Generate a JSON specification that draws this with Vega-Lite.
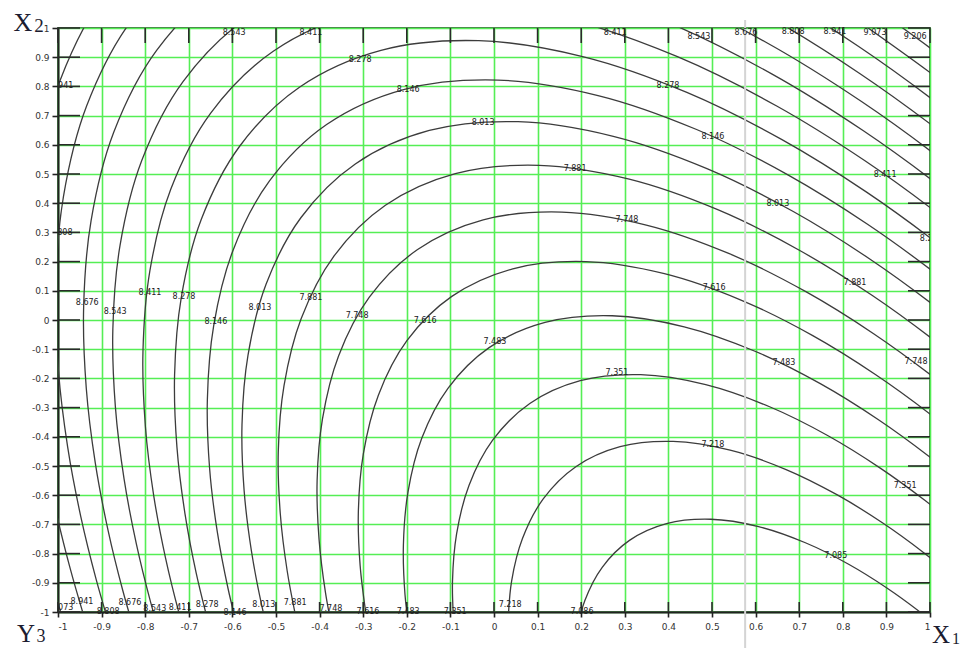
{
  "$schema": "https://vega.github.io/schema/vega-lite/v6.json",
  "width": 872,
  "height": 584,
  "autosize": {"type": "none"},
  "padding": {"left": 58, "top": 28, "right": 30, "bottom": 36},
  "background": "white",
  "config": {
    "view": {"stroke": "#4a6e4a", "strokeWidth": 2},
    "axis": {
      "grid": true,
      "gridColor": "#55ee55",
      "gridWidth": 1.6,
      "gridOpacity": 1,
      "domainColor": "#222222",
      "domainWidth": 2,
      "tickColor": "#222222",
      "tickWidth": 1.6,
      "labelFont": "DejaVu Sans",
      "labelFontSize": 9,
      "labelColor": "#333333",
      "labelOverlap": false
    },
    "axisX": {"tickSize": 5, "labelPadding": 5},
    "axisY": {"tickSize": 6, "labelPadding": 3}
  },
  "datasets": {
    "ticks": [
      {"t": -1}, {"t": -0.9}, {"t": -0.8}, {"t": -0.7}, {"t": -0.6}, {"t": -0.5}, {"t": -0.4},
      {"t": -0.3}, {"t": -0.2}, {"t": -0.1}, {"t": 0}, {"t": 0.1}, {"t": 0.2}, {"t": 0.3},
      {"t": 0.4}, {"t": 0.5}, {"t": 0.6}, {"t": 0.7}, {"t": 0.8}, {"t": 0.9}, {"t": 1}
    ],
    "one": [{"k": 1}],
    "contours": [
      {"c":"7.085","t":84,"x":1.0422,"y":-1.0788},{"c":"7.085","t":88,"x":0.9770,"y":-0.9997},{"c":"7.085","t":92,"x":0.9011,"y":-0.9176},{"c":"7.085","t":96,"x":0.8134,"y":-0.8363},{"c":"7.085","t":100,"x":0.7142,"y":-0.7628},{"c":"7.085","t":104,"x":0.6068,"y":-0.7075},{"c":"7.085","t":108,"x":0.4974,"y":-0.6824},{"c":"7.085","t":112,"x":0.3956,"y":-0.6974},{"c":"7.085","t":116,"x":0.3107,"y":-0.7547},{"c":"7.085","t":120,"x":0.2482,"y":-0.8469},{"c":"7.085","t":124,"x":0.2084,"y":-0.9606},{"c":"7.085","t":128,"x":0.1875,"y":-1.0822},
      {"c":"7.218","t":84,"x":1.0620,"y":-0.8898},{"c":"7.218","t":88,"x":0.9842,"y":-0.7953},{"c":"7.218","t":92,"x":0.8934,"y":-0.6971},{"c":"7.218","t":96,"x":0.7885,"y":-0.5999},{"c":"7.218","t":100,"x":0.6700,"y":-0.5121},{"c":"7.218","t":104,"x":0.5416,"y":-0.4459},{"c":"7.218","t":108,"x":0.4109,"y":-0.4159},{"c":"7.218","t":112,"x":0.2892,"y":-0.4339},{"c":"7.218","t":116,"x":0.1877,"y":-0.5024},{"c":"7.218","t":120,"x":0.1129,"y":-0.6126},{"c":"7.218","t":124,"x":0.0653,"y":-0.7485},{"c":"7.218","t":128,"x":0.0404,"y":-0.8939},{"c":"7.218","t":132,"x":0.0322,"y":-1.0372},
      {"c":"7.351","t":84,"x":1.0791,"y":-0.7277},{"c":"7.351","t":88,"x":0.9903,"y":-0.6199},{"c":"7.351","t":92,"x":0.8868,"y":-0.5080},{"c":"7.351","t":96,"x":0.7672,"y":-0.3972},{"c":"7.351","t":100,"x":0.6321,"y":-0.2971},{"c":"7.351","t":104,"x":0.4856,"y":-0.2216},{"c":"7.351","t":108,"x":0.3366,"y":-0.1874},{"c":"7.351","t":112,"x":0.1979,"y":-0.2079},{"c":"7.351","t":116,"x":0.0821,"y":-0.2861},{"c":"7.351","t":120,"x":-0.0031,"y":-0.4117},{"c":"7.351","t":124,"x":-0.0574,"y":-0.5666},{"c":"7.351","t":128,"x":-0.0858,"y":-0.7324},{"c":"7.351","t":132,"x":-0.0952,"y":-0.8958},{"c":"7.351","t":136,"x":-0.0918,"y":-1.0491},
      {"c":"7.483","t":84,"x":1.0941,"y":-0.5844},{"c":"7.483","t":88,"x":0.9957,"y":-0.4649},{"c":"7.483","t":92,"x":0.8810,"y":-0.3408},{"c":"7.483","t":96,"x":0.7484,"y":-0.2180},{"c":"7.483","t":100,"x":0.5986,"y":-0.1070},{"c":"7.483","t":104,"x":0.4362,"y":-0.0233},{"c":"7.483","t":108,"x":0.2710,"y":0.0146},{"c":"7.483","t":112,"x":0.1171,"y":-0.0081},{"c":"7.483","t":116,"x":-0.0112,"y":-0.0947},{"c":"7.483","t":120,"x":-0.1056,"y":-0.2340},{"c":"7.483","t":124,"x":-0.1659,"y":-0.4058},{"c":"7.483","t":128,"x":-0.1973,"y":-0.5896},{"c":"7.483","t":132,"x":-0.2078,"y":-0.7707},{"c":"7.483","t":136,"x":-0.2041,"y":-0.9407},{"c":"7.483","t":140,"x":-0.1915,"y":-1.0962},
      {"c":"7.616","t":84,"x":1.1079,"y":-0.4529},{"c":"7.616","t":88,"x":1.0007,"y":-0.3226},{"c":"7.616","t":92,"x":0.8756,"y":-0.1874},{"c":"7.616","t":96,"x":0.7311,"y":-0.0535},{"c":"7.616","t":100,"x":0.5678,"y":0.0675},{"c":"7.616","t":104,"x":0.3908,"y":0.1587},{"c":"7.616","t":108,"x":0.2107,"y":0.2000},{"c":"7.616","t":112,"x":0.0431,"y":0.1753},{"c":"7.616","t":116,"x":-0.0968,"y":0.0808},{"c":"7.616","t":120,"x":-0.1998,"y":-0.0710},{"c":"7.616","t":124,"x":-0.2654,"y":-0.2582},{"c":"7.616","t":128,"x":-0.2997,"y":-0.4586},{"c":"7.616","t":132,"x":-0.3111,"y":-0.6560},{"c":"7.616","t":136,"x":-0.3070,"y":-0.8413},{"c":"7.616","t":140,"x":-0.2933,"y":-1.0107},
      {"c":"7.748","t":84,"x":1.1206,"y":-0.3326},{"c":"7.748","t":88,"x":1.0052,"y":-0.1924},{"c":"7.748","t":92,"x":0.8707,"y":-0.0469},{"c":"7.748","t":96,"x":0.7153,"y":0.0970},{"c":"7.748","t":100,"x":0.5397,"y":0.2272},{"c":"7.748","t":104,"x":0.3493,"y":0.3253},{"c":"7.748","t":108,"x":0.1556,"y":0.3697},{"c":"7.748","t":112,"x":-0.0248,"y":0.3431},{"c":"7.748","t":116,"x":-0.1752,"y":0.2415},{"c":"7.748","t":120,"x":-0.2859,"y":0.0782},{"c":"7.748","t":124,"x":-0.3565,"y":-0.1231},{"c":"7.748","t":128,"x":-0.3934,"y":-0.3386},{"c":"7.748","t":132,"x":-0.4057,"y":-0.5509},{"c":"7.748","t":136,"x":-0.4013,"y":-0.7503},{"c":"7.748","t":140,"x":-0.3866,"y":-0.9325},{"c":"7.748","t":144,"x":-0.3657,"y":-1.0970},
      {"c":"7.881","t":84,"x":1.1325,"y":-0.2191},{"c":"7.881","t":88,"x":1.0095,"y":-0.0697},{"c":"7.881","t":92,"x":0.8661,"y":0.0854},{"c":"7.881","t":96,"x":0.7003,"y":0.2389},{"c":"7.881","t":100,"x":0.5131,"y":0.3777},{"c":"7.881","t":104,"x":0.3101,"y":0.4823},{"c":"7.881","t":108,"x":0.1036,"y":0.5297},{"c":"7.881","t":112,"x":-0.0887,"y":0.5013},{"c":"7.881","t":116,"x":-0.2491,"y":0.3930},{"c":"7.881","t":120,"x":-0.3671,"y":0.2189},{"c":"7.881","t":124,"x":-0.4424,"y":0.0042},{"c":"7.881","t":128,"x":-0.4817,"y":-0.2256},{"c":"7.881","t":132,"x":-0.4948,"y":-0.4520},{"c":"7.881","t":136,"x":-0.4901,"y":-0.6645},{"c":"7.881","t":140,"x":-0.4744,"y":-0.8587},{"c":"7.881","t":144,"x":-0.4522,"y":-1.0342},
      {"c":"8.013","t":84,"x":1.1437,"y":-0.1132},{"c":"8.013","t":88,"x":1.0135,"y":0.0449},{"c":"8.013","t":92,"x":0.8618,"y":0.2090},{"c":"8.013","t":96,"x":0.6864,"y":0.3715},{"c":"8.013","t":100,"x":0.4884,"y":0.5183},{"c":"8.013","t":104,"x":0.2736,"y":0.6289},{"c":"8.013","t":108,"x":0.0551,"y":0.6791},{"c":"8.013","t":112,"x":-0.1484,"y":0.6490},{"c":"8.013","t":116,"x":-0.3181,"y":0.5344},{"c":"8.013","t":120,"x":-0.4430,"y":0.3502},{"c":"8.013","t":124,"x":-0.5226,"y":0.1231},{"c":"8.013","t":128,"x":-0.5642,"y":-0.1200},{"c":"8.013","t":132,"x":-0.5780,"y":-0.3595},{"c":"8.013","t":136,"x":-0.5731,"y":-0.5843},{"c":"8.013","t":140,"x":-0.5565,"y":-0.7899},{"c":"8.013","t":144,"x":-0.5330,"y":-0.9755},{"c":"8.013","t":148,"x":-0.5056,"y":-1.1424},
      {"c":"8.146","t":84,"x":1.1543,"y":-0.0121},{"c":"8.146","t":88,"x":1.0173,"y":0.1543},{"c":"8.146","t":92,"x":0.8576,"y":0.3270},{"c":"8.146","t":96,"x":0.6731,"y":0.4979},{"c":"8.146","t":100,"x":0.4647,"y":0.6524},{"c":"8.146","t":104,"x":0.2387,"y":0.7688},{"c":"8.146","t":108,"x":0.0088,"y":0.8216},{"c":"8.146","t":112,"x":-0.2053,"y":0.7900},{"c":"8.146","t":116,"x":-0.3839,"y":0.6694},{"c":"8.146","t":120,"x":-0.5153,"y":0.4755},{"c":"8.146","t":124,"x":-0.5991,"y":0.2365},{"c":"8.146","t":128,"x":-0.6429,"y":-0.0193},{"c":"8.146","t":132,"x":-0.6574,"y":-0.2713},{"c":"8.146","t":136,"x":-0.6523,"y":-0.5079},{"c":"8.146","t":140,"x":-0.6348,"y":-0.7242},{"c":"8.146","t":144,"x":-0.6100,"y":-0.9195},{"c":"8.146","t":148,"x":-0.5812,"y":-1.0951},
      {"c":"8.278","t":84,"x":1.1643,"y":0.0836},{"c":"8.278","t":88,"x":1.0210,"y":0.2578},{"c":"8.278","t":92,"x":0.8537,"y":0.4387},{"c":"8.278","t":96,"x":0.6605,"y":0.6176},{"c":"8.278","t":100,"x":0.4423,"y":0.7794},{"c":"8.278","t":104,"x":0.2057,"y":0.9013},{"c":"8.278","t":108,"x":-0.0351,"y":0.9565},{"c":"8.278","t":112,"x":-0.2592,"y":0.9234},{"c":"8.278","t":116,"x":-0.4462,"y":0.7972},{"c":"8.278","t":120,"x":-0.5838,"y":0.5942},{"c":"8.278","t":124,"x":-0.6715,"y":0.3440},{"c":"8.278","t":128,"x":-0.7174,"y":0.0761},{"c":"8.278","t":132,"x":-0.7326,"y":-0.1878},{"c":"8.278","t":136,"x":-0.7272,"y":-0.4355},{"c":"8.278","t":140,"x":-0.7089,"y":-0.6620},{"c":"8.278","t":144,"x":-0.6830,"y":-0.8665},{"c":"8.278","t":148,"x":-0.6528,"y":-1.0504},
      {"c":"8.411","t":84,"x":1.1740,"y":0.1759},{"c":"8.411","t":88,"x":1.0244,"y":0.3576},{"c":"8.411","t":92,"x":0.8500,"y":0.5463},{"c":"8.411","t":96,"x":0.6484,"y":0.7330},{"c":"8.411","t":100,"x":0.4207,"y":0.9017},{"c":"8.411","t":104,"x":0.1738,"y":1.0289},{"c":"8.411","t":108,"x":-0.0773,"y":1.0866},{"c":"8.411","t":112,"x":-0.3112,"y":1.0520},{"c":"8.411","t":116,"x":-0.5063,"y":0.9203},{"c":"8.411","t":120,"x":-0.6498,"y":0.7086},{"c":"8.411","t":124,"x":-0.7414,"y":0.4475},{"c":"8.411","t":128,"x":-0.7893,"y":0.1680},{"c":"8.411","t":132,"x":-0.8051,"y":-0.1073},{"c":"8.411","t":136,"x":-0.7995,"y":-0.3658},{"c":"8.411","t":140,"x":-0.7804,"y":-0.6020},{"c":"8.411","t":144,"x":-0.7533,"y":-0.8154},{"c":"8.411","t":148,"x":-0.7218,"y":-1.0072},{"c":"8.411","t":152,"x":-0.6878,"y":-1.1800},
      {"c":"8.543","t":84,"x":1.1833,"y":0.2638},{"c":"8.543","t":88,"x":1.0278,"y":0.4527},{"c":"8.543","t":92,"x":0.8464,"y":0.6488},{"c":"8.543","t":96,"x":0.6369,"y":0.8429},{"c":"8.543","t":100,"x":0.4002,"y":1.0183},{"c":"8.543","t":104,"x":0.1435,"y":1.1506},{"c":"8.543","t":108,"x":-0.1176,"y":1.2105},{"c":"8.543","t":112,"x":-0.3607,"y":1.1746},{"c":"8.543","t":116,"x":-0.5635,"y":1.0377},{"c":"8.543","t":120,"x":-0.7128,"y":0.8175},{"c":"8.543","t":124,"x":-0.8079,"y":0.5461},{"c":"8.543","t":128,"x":-0.8577,"y":0.2556},{"c":"8.543","t":132,"x":-0.8742,"y":-0.0306},{"c":"8.543","t":136,"x":-0.8683,"y":-0.2993},{"c":"8.543","t":140,"x":-0.8484,"y":-0.5449},{"c":"8.543","t":144,"x":-0.8203,"y":-0.7667},{"c":"8.543","t":148,"x":-0.7876,"y":-0.9661},{"c":"8.543","t":152,"x":-0.7526,"y":-1.1458},
      {"c":"8.676","t":84,"x":1.1922,"y":0.3491},{"c":"8.676","t":88,"x":1.0310,"y":0.5450},{"c":"8.676","t":92,"x":0.8429,"y":0.7483},{"c":"8.676","t":96,"x":0.6257,"y":0.9496},{"c":"8.676","t":100,"x":0.3802,"y":1.1315},{"c":"8.676","t":104,"x":0.1141,"y":1.2686},{"c":"8.676","t":108,"x":-0.1567,"y":1.3307},{"c":"8.676","t":112,"x":-0.4088,"y":1.2935},{"c":"8.676","t":116,"x":-0.6191,"y":1.1516},{"c":"8.676","t":120,"x":-0.7738,"y":0.9233},{"c":"8.676","t":124,"x":-0.8724,"y":0.6418},{"c":"8.676","t":128,"x":-0.9241,"y":0.3406},{"c":"8.676","t":132,"x":-0.9412,"y":0.0438},{"c":"8.676","t":136,"x":-0.9351,"y":-0.2348},{"c":"8.676","t":140,"x":-0.9145,"y":-0.4895},{"c":"8.676","t":144,"x":-0.8853,"y":-0.7195},{"c":"8.676","t":148,"x":-0.8514,"y":-0.9263},{"c":"8.676","t":152,"x":-0.8152,"y":-1.1125},
      {"c":"8.808","t":84,"x":1.2008,"y":0.4307},{"c":"8.808","t":88,"x":1.0341,"y":0.6333},{"c":"8.808","t":92,"x":0.8396,"y":0.8436},{"c":"8.808","t":96,"x":0.6149,"y":1.0517},{"c":"8.808","t":100,"x":0.3611,"y":1.2398},{"c":"8.808","t":104,"x":0.0859,"y":1.3816},{"c":"8.808","t":108,"x":-0.1941,"y":1.4458},{"c":"8.808","t":112,"x":-0.4548,"y":1.4073},{"c":"8.808","t":116,"x":-0.6722,"y":1.2605},{"c":"8.808","t":120,"x":-0.8322,"y":1.0245},{"c":"8.808","t":124,"x":-0.9342,"y":0.7334},{"c":"8.808","t":128,"x":-0.9876,"y":0.4219},{"c":"8.808","t":132,"x":-1.0053,"y":0.1150},{"c":"8.808","t":136,"x":-0.9990,"y":-0.1730},{"c":"8.808","t":140,"x":-0.9777,"y":-0.4364},{"c":"8.808","t":144,"x":-0.9476,"y":-0.6742},{"c":"8.808","t":148,"x":-0.9125,"y":-0.8881},{"c":"8.808","t":152,"x":-0.8750,"y":-1.0807},
      {"c":"8.941","t":84,"x":1.2092,"y":0.5104},{"c":"8.941","t":88,"x":1.0371,"y":0.7195},{"c":"8.941","t":92,"x":0.8364,"y":0.9366},{"c":"8.941","t":96,"x":0.6044,"y":1.1514},{"c":"8.941","t":100,"x":0.3425,"y":1.3456},{"c":"8.941","t":104,"x":0.0584,"y":1.4919},{"c":"8.941","t":108,"x":-0.2306,"y":1.5583},{"c":"8.941","t":112,"x":-0.4997,"y":1.5185},{"c":"8.941","t":116,"x":-0.7241,"y":1.3670},{"c":"8.941","t":120,"x":-0.8893,"y":1.1233},{"c":"8.941","t":124,"x":-0.9946,"y":0.8229},{"c":"8.941","t":128,"x":-1.0497,"y":0.5014},{"c":"8.941","t":132,"x":-1.0679,"y":0.1846},{"c":"8.941","t":136,"x":-1.0614,"y":-0.1127},{"c":"8.941","t":140,"x":-1.0395,"y":-0.3846},{"c":"8.941","t":144,"x":-1.0083,"y":-0.6301},{"c":"8.941","t":148,"x":-0.9721,"y":-0.8508},{"c":"8.941","t":152,"x":-0.9335,"y":-1.0496},
      {"c":"9.073a","t":84,"x":1.2173,"y":0.5872},{"c":"9.073a","t":88,"x":1.0400,"y":0.8026},{"c":"9.073a","t":92,"x":0.8332,"y":1.0262},
      {"c":"9.073b","t":140,"x":-1.0989,"y":-0.3347},{"c":"9.073b","t":144,"x":-1.0669,"y":-0.5876},{"c":"9.073b","t":148,"x":-1.0296,"y":-0.8149},{"c":"9.073b","t":152,"x":-0.9897,"y":-1.0197},{"c":"9.073b","t":156,"x":-0.9488,"y":-1.2048},
      {"c":"9.206","t":84,"x":1.2252,"y":0.6624},{"c":"9.206","t":88,"x":1.0428,"y":0.8840},{"c":"9.206","t":92,"x":0.8302,"y":1.1139}
    ],
    "labels": [
      {"txt":"8.543","x":-0.596,"y":0.983},{"txt":"8.411","x":-0.42,"y":0.983},{"txt":"8.411","x":0.278,"y":0.983},{"txt":"8.543","x":0.47,"y":0.969},{"txt":"8.676","x":0.578,"y":0.983},{"txt":"8.808","x":0.686,"y":0.986},{"txt":"8.941","x":0.782,"y":0.986},{"txt":"9.073","x":0.874,"y":0.983},{"txt":"9.206","x":0.966,"y":0.969},
      {"txt":"8.278","x":-0.307,"y":0.89},{"txt":"8.146","x":-0.197,"y":0.788},{"txt":"8.013","x":-0.025,"y":0.675},{"txt":"7.881","x":0.186,"y":0.517},{"txt":"8.278","x":0.399,"y":0.80},{"txt":"8.146","x":0.502,"y":0.627},{"txt":"8.013","x":0.651,"y":0.397},{"txt":"8.411","x":0.897,"y":0.497},{"txt":"7.748","x":0.305,"y":0.342},{"txt":"7.616","x":0.505,"y":0.11},{"txt":"7.483","x":0.665,"y":-0.147},{"txt":"7.881","x":0.828,"y":0.127},{"txt":"7.748","x":0.968,"y":-0.144},{"txt":"7.351","x":0.282,"y":-0.182},{"txt":"7.218","x":0.502,"y":-0.428},{"txt":"7.351","x":0.943,"y":-0.568},{"txt":"7.085","x":0.784,"y":-0.808},
      {"txt":"8.676","x":-0.933,"y":0.058},{"txt":"8.543","x":-0.869,"y":0.027},{"txt":"8.411","x":-0.789,"y":0.092},{"txt":"8.278","x":-0.711,"y":0.079},{"txt":"8.146","x":-0.638,"y":-0.007},{"txt":"8.013","x":-0.537,"y":0.041},{"txt":"7.881","x":-0.42,"y":0.075},{"txt":"7.748","x":-0.314,"y":0.014},{"txt":"7.616","x":-0.158,"y":-0.003},{"txt":"7.483","x":0.002,"y":-0.075},
      {"txt":"8.941","x":-0.945,"y":-0.966},{"txt":"8.808","x":-0.885,"y":-1.0},{"txt":"8.676","x":-0.835,"y":-0.969},{"txt":"8.543","x":-0.778,"y":-0.99},{"txt":"8.411","x":-0.72,"y":-0.986},{"txt":"8.278","x":-0.658,"y":-0.976},{"txt":"8.146","x":-0.594,"y":-1.003},{"txt":"8.013","x":-0.528,"y":-0.976},{"txt":"7.881","x":-0.456,"y":-0.969},{"txt":"7.748","x":-0.374,"y":-0.99},{"txt":"7.616","x":-0.289,"y":-1.0},{"txt":"7.483","x":-0.197,"y":-1.0},{"txt":"7.351","x":-0.089,"y":-1.0},{"txt":"7.218","x":0.037,"y":-0.976},{"txt":"7.086","x":0.202,"y":-1.0}
    ],
    "edgeLabels": [
      {"txt":"8.941","x":-0.991,"y":0.80},{"txt":"8.808","x":-0.993,"y":0.298},{"txt":"9.073","x":-0.991,"y":-0.985},{"txt":"8.278","x":1.003,"y":0.277}
    ]
  },
  "layer": [
    {
      "data": {"name": "contours"},
      "mark": {"type": "line", "clip": true, "interpolate": "catmull-rom", "stroke": "#3c3c3c", "strokeWidth": 1.3},
      "encoding": {
        "x": {
          "field": "x", "type": "quantitative", "title": null,
          "scale": {"domain": [-1, 1], "nice": false, "zero": false},
          "axis": {"orient": "bottom", "values": [-1, -0.9, -0.8, -0.7, -0.6, -0.5, -0.4, -0.3, -0.2, -0.1, 0, 0.1, 0.2, 0.3, 0.4, 0.5, 0.6, 0.7, 0.8, 0.9, 1], "labelExpr": "datum.value < 0 ? '-' + format(-datum.value, '~g') : format(datum.value, '~g')", "title": null}
        },
        "y": {
          "field": "y", "type": "quantitative", "title": null,
          "scale": {"domain": [-1, 1], "nice": false, "zero": false},
          "axis": {"orient": "left", "values": [-1, -0.9, -0.8, -0.7, -0.6, -0.5, -0.4, -0.3, -0.2, -0.1, 0, 0.1, 0.2, 0.3, 0.4, 0.5, 0.6, 0.7, 0.8, 0.9, 1], "labelExpr": "datum.value < 0 ? '-' + format(-datum.value, '~g') : format(datum.value, '~g')", "title": null}
        },
        "detail": {"field": "c", "type": "nominal"},
        "order": {"field": "t", "type": "quantitative"}
      }
    },
    {
      "data": {"name": "one"},
      "mark": {"type": "rule", "color": "#d4d4d4", "strokeWidth": 2, "clip": false},
      "encoding": {
        "x": {"datum": 0.576, "type": "quantitative", "title": null, "axis": {"orient": "bottom", "values": [-1, -0.9, -0.8, -0.7, -0.6, -0.5, -0.4, -0.3, -0.2, -0.1, 0, 0.1, 0.2, 0.3, 0.4, 0.5, 0.6, 0.7, 0.8, 0.9, 1], "labelExpr": "datum.value < 0 ? '-' + format(-datum.value, '~g') : format(datum.value, '~g')", "title": null}},
        "y": {"datum": 1.027, "type": "quantitative", "title": null, "axis": {"orient": "left", "values": [-1, -0.9, -0.8, -0.7, -0.6, -0.5, -0.4, -0.3, -0.2, -0.1, 0, 0.1, 0.2, 0.3, 0.4, 0.5, 0.6, 0.7, 0.8, 0.9, 1], "labelExpr": "datum.value < 0 ? '-' + format(-datum.value, '~g') : format(datum.value, '~g')", "title": null}},
        "y2": {"datum": -1.123}
      }
    },
    {
      "data": {"name": "ticks"},
      "mark": {"type": "rule", "color": "#2a2a2a", "strokeWidth": 1.6},
      "encoding": {
        "y": {"field": "t", "type": "quantitative", "title": null, "axis": {"orient": "left", "values": [-1, -0.9, -0.8, -0.7, -0.6, -0.5, -0.4, -0.3, -0.2, -0.1, 0, 0.1, 0.2, 0.3, 0.4, 0.5, 0.6, 0.7, 0.8, 0.9, 1], "labelExpr": "datum.value < 0 ? '-' + format(-datum.value, '~g') : format(datum.value, '~g')", "title": null}},
        "x": {"datum": -1, "type": "quantitative", "title": null, "axis": {"orient": "bottom", "values": [-1, -0.9, -0.8, -0.7, -0.6, -0.5, -0.4, -0.3, -0.2, -0.1, 0, 0.1, 0.2, 0.3, 0.4, 0.5, 0.6, 0.7, 0.8, 0.9, 1], "labelExpr": "datum.value < 0 ? '-' + format(-datum.value, '~g') : format(datum.value, '~g')", "title": null}},
        "x2": {"datum": -0.9495}
      }
    },
    {
      "data": {"name": "ticks"},
      "mark": {"type": "rule", "color": "#2a2a2a", "strokeWidth": 1.6},
      "encoding": {
        "y": {"field": "t", "type": "quantitative", "title": null, "axis": {"orient": "left", "values": [-1, -0.9, -0.8, -0.7, -0.6, -0.5, -0.4, -0.3, -0.2, -0.1, 0, 0.1, 0.2, 0.3, 0.4, 0.5, 0.6, 0.7, 0.8, 0.9, 1], "labelExpr": "datum.value < 0 ? '-' + format(-datum.value, '~g') : format(datum.value, '~g')", "title": null}},
        "x": {"datum": 0.9495, "type": "quantitative", "title": null, "axis": {"orient": "bottom", "values": [-1, -0.9, -0.8, -0.7, -0.6, -0.5, -0.4, -0.3, -0.2, -0.1, 0, 0.1, 0.2, 0.3, 0.4, 0.5, 0.6, 0.7, 0.8, 0.9, 1], "labelExpr": "datum.value < 0 ? '-' + format(-datum.value, '~g') : format(datum.value, '~g')", "title": null}},
        "x2": {"datum": 1}
      }
    },
    {
      "data": {"name": "ticks"},
      "mark": {"type": "rule", "color": "#2a2a2a", "strokeWidth": 1.6},
      "encoding": {
        "x": {"field": "t", "type": "quantitative", "title": null, "axis": {"orient": "bottom", "values": [-1, -0.9, -0.8, -0.7, -0.6, -0.5, -0.4, -0.3, -0.2, -0.1, 0, 0.1, 0.2, 0.3, 0.4, 0.5, 0.6, 0.7, 0.8, 0.9, 1], "labelExpr": "datum.value < 0 ? '-' + format(-datum.value, '~g') : format(datum.value, '~g')", "title": null}},
        "y": {"datum": 1, "type": "quantitative", "title": null, "axis": {"orient": "left", "values": [-1, -0.9, -0.8, -0.7, -0.6, -0.5, -0.4, -0.3, -0.2, -0.1, 0, 0.1, 0.2, 0.3, 0.4, 0.5, 0.6, 0.7, 0.8, 0.9, 1], "labelExpr": "datum.value < 0 ? '-' + format(-datum.value, '~g') : format(datum.value, '~g')", "title": null}},
        "y2": {"datum": 0.9486}
      }
    },
    {
      "data": {"name": "ticks"},
      "mark": {"type": "rule", "color": "#2a2a2a", "strokeWidth": 1.6},
      "encoding": {
        "x": {"field": "t", "type": "quantitative", "title": null, "axis": {"orient": "bottom", "values": [-1, -0.9, -0.8, -0.7, -0.6, -0.5, -0.4, -0.3, -0.2, -0.1, 0, 0.1, 0.2, 0.3, 0.4, 0.5, 0.6, 0.7, 0.8, 0.9, 1], "labelExpr": "datum.value < 0 ? '-' + format(-datum.value, '~g') : format(datum.value, '~g')", "title": null}},
        "y": {"datum": -1, "type": "quantitative", "title": null, "axis": {"orient": "left", "values": [-1, -0.9, -0.8, -0.7, -0.6, -0.5, -0.4, -0.3, -0.2, -0.1, 0, 0.1, 0.2, 0.3, 0.4, 0.5, 0.6, 0.7, 0.8, 0.9, 1], "labelExpr": "datum.value < 0 ? '-' + format(-datum.value, '~g') : format(datum.value, '~g')", "title": null}},
        "y2": {"datum": -0.9658}
      }
    },
    {
      "data": {"name": "labels"},
      "mark": {"type": "text", "font": "DejaVu Sans", "fontSize": 8, "fill": "#222222", "clip": false},
      "encoding": {
        "x": {"field": "x", "type": "quantitative", "title": null, "axis": {"orient": "bottom", "values": [-1, -0.9, -0.8, -0.7, -0.6, -0.5, -0.4, -0.3, -0.2, -0.1, 0, 0.1, 0.2, 0.3, 0.4, 0.5, 0.6, 0.7, 0.8, 0.9, 1], "labelExpr": "datum.value < 0 ? '-' + format(-datum.value, '~g') : format(datum.value, '~g')", "title": null}},
        "y": {"field": "y", "type": "quantitative", "title": null, "axis": {"orient": "left", "values": [-1, -0.9, -0.8, -0.7, -0.6, -0.5, -0.4, -0.3, -0.2, -0.1, 0, 0.1, 0.2, 0.3, 0.4, 0.5, 0.6, 0.7, 0.8, 0.9, 1], "labelExpr": "datum.value < 0 ? '-' + format(-datum.value, '~g') : format(datum.value, '~g')", "title": null}},
        "text": {"field": "txt"}
      }
    },
    {
      "data": {"name": "edgeLabels"},
      "mark": {"type": "text", "font": "DejaVu Sans", "fontSize": 8, "fill": "#222222", "clip": true},
      "encoding": {
        "x": {"field": "x", "type": "quantitative", "title": null, "axis": {"orient": "bottom", "values": [-1, -0.9, -0.8, -0.7, -0.6, -0.5, -0.4, -0.3, -0.2, -0.1, 0, 0.1, 0.2, 0.3, 0.4, 0.5, 0.6, 0.7, 0.8, 0.9, 1], "labelExpr": "datum.value < 0 ? '-' + format(-datum.value, '~g') : format(datum.value, '~g')", "title": null}},
        "y": {"field": "y", "type": "quantitative", "title": null, "axis": {"orient": "left", "values": [-1, -0.9, -0.8, -0.7, -0.6, -0.5, -0.4, -0.3, -0.2, -0.1, 0, 0.1, 0.2, 0.3, 0.4, 0.5, 0.6, 0.7, 0.8, 0.9, 1], "labelExpr": "datum.value < 0 ? '-' + format(-datum.value, '~g') : format(datum.value, '~g')", "title": null}},
        "text": {"field": "txt"}
      }
    },
    {
      "data": {"name": "one"},
      "layer": [
        {"mark": {"type": "text", "font": "Liberation Serif", "fontSize": 26, "fill": "#1c1c30", "dx": -35, "dy": -5, "clip": false}, "encoding": {"text": {"value": "X"}}},
        {"mark": {"type": "text", "font": "Liberation Serif", "fontSize": 19, "fill": "#1c1c30", "dx": -19, "dy": -2, "clip": false}, "encoding": {"text": {"value": "2"}}}
      ],
      "encoding": {
        "x": {"datum": -1, "type": "quantitative", "title": null, "axis": {"orient": "bottom", "values": [-1, -0.9, -0.8, -0.7, -0.6, -0.5, -0.4, -0.3, -0.2, -0.1, 0, 0.1, 0.2, 0.3, 0.4, 0.5, 0.6, 0.7, 0.8, 0.9, 1], "labelExpr": "datum.value < 0 ? '-' + format(-datum.value, '~g') : format(datum.value, '~g')", "title": null}},
        "y": {"datum": 1, "type": "quantitative", "title": null, "axis": {"orient": "left", "values": [-1, -0.9, -0.8, -0.7, -0.6, -0.5, -0.4, -0.3, -0.2, -0.1, 0, 0.1, 0.2, 0.3, 0.4, 0.5, 0.6, 0.7, 0.8, 0.9, 1], "labelExpr": "datum.value < 0 ? '-' + format(-datum.value, '~g') : format(datum.value, '~g')", "title": null}}
      }
    },
    {
      "data": {"name": "one"},
      "layer": [
        {"mark": {"type": "text", "font": "Liberation Serif", "fontSize": 25, "fill": "#1c1c30", "dx": -32, "dy": 22, "clip": false}, "encoding": {"text": {"value": "Y"}}},
        {"mark": {"type": "text", "font": "Liberation Serif", "fontSize": 18, "fill": "#1c1c30", "dx": -17, "dy": 25, "clip": false}, "encoding": {"text": {"value": "3"}}}
      ],
      "encoding": {
        "x": {"datum": -1, "type": "quantitative", "title": null, "axis": {"orient": "bottom", "values": [-1, -0.9, -0.8, -0.7, -0.6, -0.5, -0.4, -0.3, -0.2, -0.1, 0, 0.1, 0.2, 0.3, 0.4, 0.5, 0.6, 0.7, 0.8, 0.9, 1], "labelExpr": "datum.value < 0 ? '-' + format(-datum.value, '~g') : format(datum.value, '~g')", "title": null}},
        "y": {"datum": -1, "type": "quantitative", "title": null, "axis": {"orient": "left", "values": [-1, -0.9, -0.8, -0.7, -0.6, -0.5, -0.4, -0.3, -0.2, -0.1, 0, 0.1, 0.2, 0.3, 0.4, 0.5, 0.6, 0.7, 0.8, 0.9, 1], "labelExpr": "datum.value < 0 ? '-' + format(-datum.value, '~g') : format(datum.value, '~g')", "title": null}}
      }
    },
    {
      "data": {"name": "one"},
      "layer": [
        {"mark": {"type": "text", "font": "Liberation Serif", "fontSize": 25, "fill": "#1c1c30", "dx": 11, "dy": 23, "clip": false}, "encoding": {"text": {"value": "X"}}},
        {"mark": {"type": "text", "font": "Liberation Serif", "fontSize": 16, "fill": "#1c1c30", "dx": 26, "dy": 27, "clip": false}, "encoding": {"text": {"value": "1"}}}
      ],
      "encoding": {
        "x": {"datum": 1, "type": "quantitative", "title": null, "axis": {"orient": "bottom", "values": [-1, -0.9, -0.8, -0.7, -0.6, -0.5, -0.4, -0.3, -0.2, -0.1, 0, 0.1, 0.2, 0.3, 0.4, 0.5, 0.6, 0.7, 0.8, 0.9, 1], "labelExpr": "datum.value < 0 ? '-' + format(-datum.value, '~g') : format(datum.value, '~g')", "title": null}},
        "y": {"datum": -1, "type": "quantitative", "title": null, "axis": {"orient": "left", "values": [-1, -0.9, -0.8, -0.7, -0.6, -0.5, -0.4, -0.3, -0.2, -0.1, 0, 0.1, 0.2, 0.3, 0.4, 0.5, 0.6, 0.7, 0.8, 0.9, 1], "labelExpr": "datum.value < 0 ? '-' + format(-datum.value, '~g') : format(datum.value, '~g')", "title": null}}
      }
    }
  ]
}
